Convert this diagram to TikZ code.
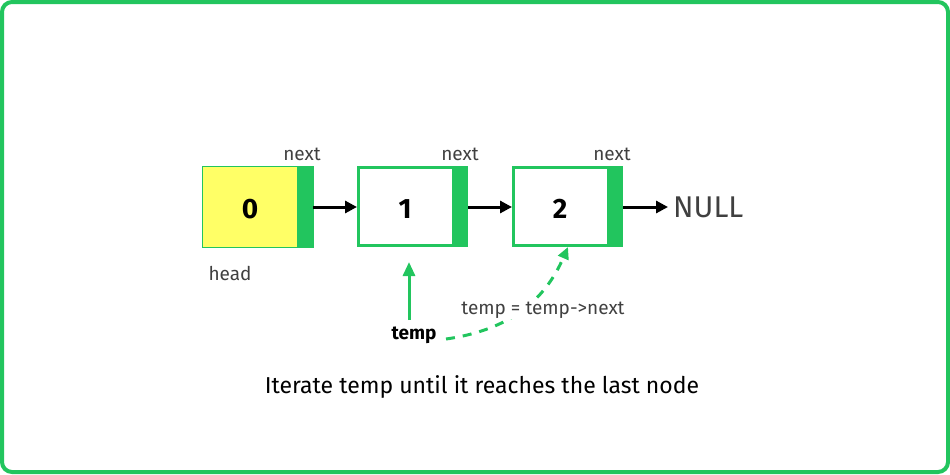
\documentclass[tikz,border=0pt]{standalone}
\usepackage{fontspec}
\setmainfont{Fira Sans}
\usetikzlibrary{arrows.meta}
\definecolor{gg}{RGB}{34,197,94}
\definecolor{yel}{RGB}{255,255,102}
\definecolor{txt}{RGB}{30,30,30}
\begin{document}
\begin{tikzpicture}[x=1pt,y=-1pt,
  lbl/.style={font=\fontsize{19}{21}\selectfont\color{txt!85}, inner sep=0pt},
  num/.style={font=\fontsize{28}{30}\selectfont\bfseries, inner sep=0pt},
  arr/.style={line width=3pt,-{Triangle[length=12pt,width=12pt]}},
  ga/.style={gg,line width=3pt,-{Triangle[length=14pt,width=12pt]}}]
\useasboundingbox (0,0) rectangle (950,474);
\draw[gg,line width=4pt,rounded corners=10pt] (2,2) rectangle (948,472);
% node 0
\fill[yel] (202,166) rectangle (297,247);
\draw[gg,line width=1pt] (202,166) rectangle (313,247);
\fill[gg] (297,166) rectangle (313,247);
\node[num] (n0) at (250,209) {0};
\coordinate (r0) at (313,207);
% node 1
\draw[gg,line width=3pt] (358.5,167.5) rectangle (466.5,245.5);
\fill[gg] (452,166) rectangle (468,247);
\node[num] (n1) at (405,209) {1};
\coordinate (l1) at (357,207);
\coordinate (r1) at (468,207);
\coordinate (b1) at (409,262);
% node 2
\draw[gg,line width=3pt] (513.5,167.5) rectangle (621.5,245.5);
\fill[gg] (607,166) rectangle (623,247);
\node[num] (n2) at (560,209) {2};
\coordinate (l2) at (512,207);
\coordinate (r2) at (623,207);
\coordinate (b2) at (568,247);
% labels
\node[lbl] (x0) at (302,154) {next};
\node[lbl] (x1) at (460,154) {next};
\node[lbl] (x2) at (612,154) {next};
\node[lbl] (head) at (230,273) {head};
\node[font=\fontsize{30}{32}\selectfont\color{txt!85}, inner sep=0pt, anchor=west] (null) at (673,207) {NULL};
% arrows
\draw[arr] (r0) -- (l1);
\draw[arr] (r1) -- (l2);
\draw[arr] (r2) -- ([xshift=-5pt]null.west);
% temp
\node[font=\fontsize{19}{21}\selectfont\bfseries, inner sep=0pt] (temp) at (414,335) {temp};
\draw[ga] (409,320) -- (b1);
\coordinate (ds) at (446,339);
\draw[gg,line width=3pt,dash pattern=on 9pt off 8pt,-{Triangle[length=12pt,width=11pt]}]
  (ds) .. controls (510,330) and (545,300) .. (b2);
\node[lbl,fill=white,inner sep=1pt] (op) at (543,310) {temp = temp->next};
\node[font=\fontsize{23}{25}\selectfont, inner sep=0pt] (cap) at (482,387) {Iterate temp until it reaches the last node};
\end{tikzpicture}
\end{document}
